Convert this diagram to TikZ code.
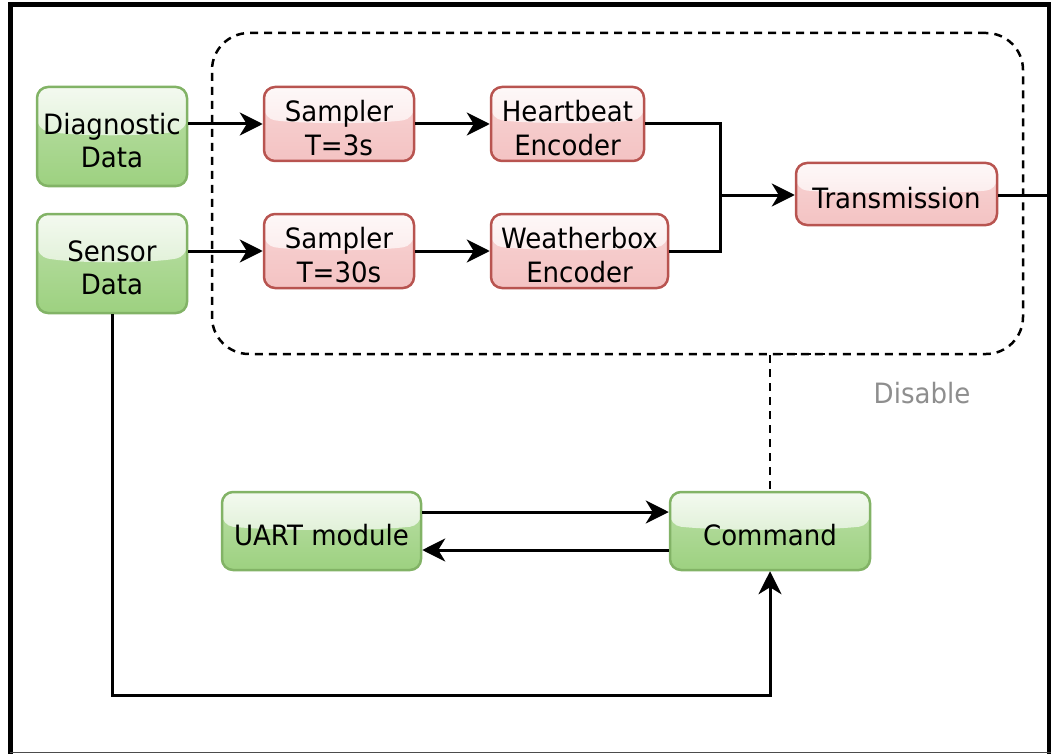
\documentclass[tikz,border=0pt]{standalone}
\usepackage{fontspec}
\setmainfont{DejaVu Sans}[FakeStretch=0.93]
\usetikzlibrary{arrows.meta,calc}

\definecolor{gfill}{HTML}{9DD180}
\definecolor{gline}{HTML}{82B366}
\definecolor{rfill}{HTML}{F4C3C3}
\definecolor{rline}{HTML}{B85450}
\definecolor{labelgray}{HTML}{8E8E8E}

% glossy highlight over the upper part of a box
\newcommand\boxgloss[1]{%
  \shade[top color=#1!12!white, bottom color=#1!48!white]
    (path picture bounding box.north west) -- (path picture bounding box.north east)
    -- ($(path picture bounding box.north east)!0.43!(path picture bounding box.south east)$)
    .. controls ($(path picture bounding box.north east)!0.5!(path picture bounding box.south)$)
       and ($(path picture bounding box.north west)!0.5!(path picture bounding box.south)$)
    .. ($(path picture bounding box.north west)!0.43!(path picture bounding box.south west)$)
    -- cycle;}
% strut that sets the first line of a box label slightly lower
\newcommand\lowstrut{\rule{0pt}{29pt}}

\tikzset{
  box/.style={rounded corners=11pt, line width=2.5pt, inner sep=0pt, align=center,
    font=\fontsize{28}{33.5}\selectfont},
  gbox/.style={box, draw=gline, top color=gfill!68!white, bottom color=gfill,
    path picture={\boxgloss{gfill}}},
  rbox/.style={box, draw=rline, top color=rfill!72!white, bottom color=rfill,
    path picture={\boxgloss{rfill}}},
  conn/.style={line width=3pt, -{Stealth[length=23pt, width=23pt, inset=7pt]}},
  wire/.style={line width=3pt},
  dashline/.style={line width=2.5pt, dash pattern=on 8pt off 6pt},
}

\begin{document}
\begin{tikzpicture}[x=1pt, y=-1pt]
\useasboundingbox (0,0) rectangle (1051,754);

% outer frame
\draw[line width=5pt] (10.5,754) -- (10.5,4.5) -- (1049,4.5) -- (1049,754);
\draw[line width=1.5pt, black!70] (10,752.5) -- (1051,752.5);

% dashed processing group
\node[draw, dashline, rounded corners=37pt, minimum width=811pt, minimum height=321pt]
  (grp) at (617.5,193.5) {};

% sources
\node[gbox, minimum width=150pt, minimum height=99pt] (diag) at (112,136.5) {\lowstrut Diagnostic\\Data};
\node[gbox, minimum width=150pt, minimum height=99pt] (sens) at (112,263.5) {\lowstrut Sensor\\Data};

% samplers and encoders
\node[rbox, minimum width=150pt, minimum height=74pt] (s3) at (339,124) {\lowstrut Sampler\\T=3s};
\node[rbox, minimum width=150pt, minimum height=74pt] (s30) at (339,251) {\lowstrut Sampler\\T=30s};
\node[rbox, minimum width=153pt, minimum height=74pt] (hb) at (567.5,124) {\lowstrut Heartbeat\\Encoder};
\node[rbox, minimum width=177pt, minimum height=74pt] (wb) at (579.5,251) {\lowstrut Weatherbox\\Encoder};
\node[rbox, minimum width=201pt, minimum height=62pt] (tx) at (896.5,194) {\lowstrut Transmission};

% control
\node[gbox, minimum width=199pt, minimum height=78pt] (uart) at (321.5,531) {\lowstrut UART module};
\node[gbox, minimum width=200pt, minimum height=78pt] (cmd) at (770,531) {\lowstrut Command};

\node[text=labelgray, font=\fontsize{28}{33}\selectfont] (dis) at (922,393) {Disable};

% data paths
\draw[conn] (diag.east |- s3.west) -- (s3.west);
\draw[conn] (sens.east |- s30.west) -- (s30.west);
\draw[conn] (s3.east) -- (hb.west);
\draw[conn] (s30.east) -- (wb.west);
\coordinate (merge) at (720,195);
\draw[wire] (hb.east) -| (merge);
\draw[wire] (wb.east) -| (merge);
\draw[conn] (merge) -- (tx.west |- merge);
\coordinate (txout) at (1047,195);
\draw[wire] (tx.east |- txout) -- (txout);

% command paths
\draw[conn] ([yshift=19pt]uart.east) -- ([yshift=19pt]cmd.west);
\draw[conn] ([yshift=-19pt]cmd.west) -- ([yshift=-19pt]uart.east);
\draw[conn] (sens.south) -- ++(0,381) -| (cmd.south);

% disable control
\coordinate (dj) at (825,354);
\draw[dashline] (dj) -| (cmd.north);
\end{tikzpicture}
\end{document}
